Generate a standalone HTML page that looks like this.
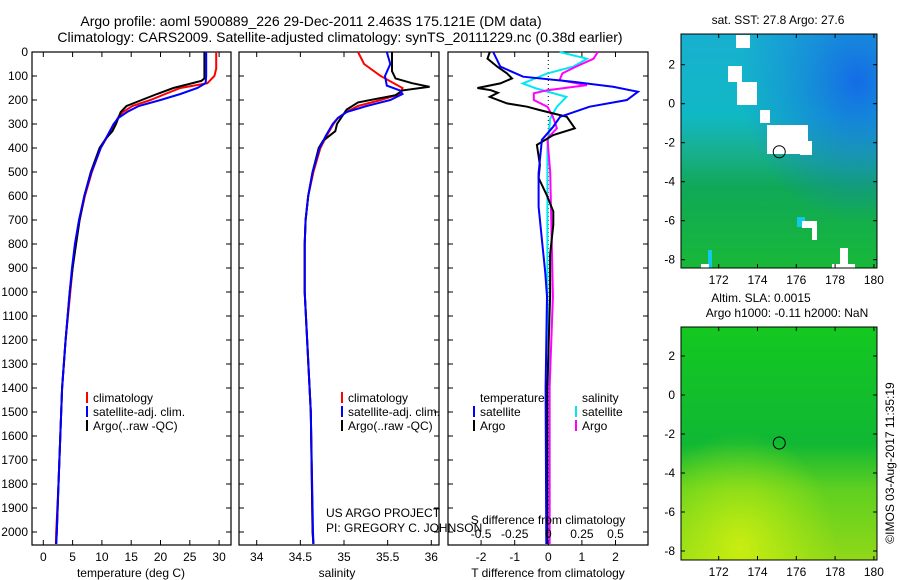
<!DOCTYPE html>
<html><head><meta charset="utf-8"><style>
body{margin:0;background:#fff;}
svg{display:block;font-family:"Liberation Sans",sans-serif;}
</style></head><body>
<svg id="c" width="900" height="580" viewBox="0 0 900 580">
<defs>
<linearGradient id="sstg" x1="0" y1="0" x2="0" y2="1">
<stop offset="0" stop-color="#18b0d0"/><stop offset="0.35" stop-color="#10b8c4"/><stop offset="0.5" stop-color="#18b090"/><stop offset="0.65" stop-color="#10a858"/><stop offset="1" stop-color="#18b838"/></linearGradient>
<radialGradient id="sstr" cx="0.9" cy="0.2" r="0.6"><stop offset="0" stop-color="#1468e8" stop-opacity="0.95"/><stop offset="0.6" stop-color="#1878e0" stop-opacity="0.4"/><stop offset="1" stop-color="#1878e0" stop-opacity="0"/></radialGradient>
<linearGradient id="slag" x1="0" y1="0" x2="0" y2="1">
<stop offset="0" stop-color="#14c820"/><stop offset="0.5" stop-color="#10b834"/><stop offset="0.7" stop-color="#60d020"/><stop offset="1" stop-color="#90d818"/></linearGradient>
<radialGradient id="slay" cx="0.3" cy="0.95" r="0.5"><stop offset="0" stop-color="#d0f010" stop-opacity="0.9"/><stop offset="1" stop-color="#c0f010" stop-opacity="0"/></radialGradient>
</defs>
<g id="root"></g>
</svg>
<script>
// ---- data ----
const tDepth = [0,70,100,130,150,175,200,225,250,275,300,350,400,500,600,700,800,900,1000,1200,1400,1600,1800,2000,2050];
const tClim  = [29.5,29.5,29.2,28,23.4,20.8,18.3,15.2,13.6,12.7,12.2,11,9.8,8.3,7.1,6.2,5.5,5,4.6,3.8,3.2,2.9,2.6,2.2,2.15];
const tSat   = [27.8,27.8,27.8,27.7,26.3,23.4,20,16.3,14.3,12.8,12,10.9,9.8,8.2,7,6.1,5.4,4.9,4.5,3.8,3.2,2.9,2.6,2.3,2.2];
const tArgoDepth = [0,110,120,150,175,200,225,250,275,300,330,360,400,500,600,700,800,900,1000,1200,1400,1600,1800,2000,2050];
const tArgo  = [27.5,27.5,27,22.2,19.4,16.8,14.2,13.2,12.8,12.4,11.8,10.7,9.6,8.1,7,6.2,5.6,5,4.5,3.8,3.2,2.9,2.6,2.3,2.2];

const sDepth = [0,50,100,130,150,175,200,225,250,275,300,350,400,500,600,700,800,1000,1500,2000,2050];
const sClim  = [35.16,35.23,35.42,35.57,35.67,35.64,35.42,35.16,35.03,34.93,34.88,34.8,34.73,34.65,34.59,34.56,34.55,34.55,34.62,34.64,34.65];
const sSatDepth = [0,50,100,140,160,175,200,225,250,275,300,350,400,500,600,700,800,1000,1500,2000,2050];
const sSat   = [35.49,35.53,35.47,35.49,35.64,35.67,35.53,35.26,35.03,34.93,34.87,34.79,34.72,34.64,34.59,34.56,34.55,34.55,34.62,34.645,34.65];
const sArgoDepth = [0,80,110,130,145,160,180,210,240,300,330,370,400,500,600,700,800,1000,1500,2000,2050];
const sArgo  = [35.55,35.55,35.59,35.78,35.98,35.67,35.59,35.16,35.03,34.92,34.9,34.76,34.71,34.64,34.59,34.56,34.55,34.55,34.62,34.64,34.65];

const dTSatDepth = [0,61,103,124,145,166,200,228,270,311,366,505,644,782,921,1018,1400,2050];
const dTSat  = [-1.64,-1.43,-0.75,0.73,1.93,2.67,2.34,1.23,0.35,0.15,-0.19,-0.29,-0.29,-0.19,-0.09,-0.04,-0.08,-0.06];
const dTArgoDepth = [0,28,61,89,110,131,150,159,170,187,214,228,242,270,318,346,387,470,525,595,664,720,844,1018,1400,2050];
const dTArgo = [-1.74,-1.81,-1.52,-1.23,-1.08,-1.43,-2.11,-1.71,-1.5,-1.74,-1.23,-0.63,-0.25,0.55,0.79,0.15,-0.34,-0.25,-0.29,-0.05,0.15,0.15,0.055,0.055,-0.03,-0.03];
const dSSatDepth = [0,28,61,89,131,152,187,228,277,400,1018,1400,2050];
const dSSat  = [0.084,0.287,0.186,-0.007,-0.19,-0.088,0.135,0.064,0.014,-0.007,-0.007,0.01,0.01];
const dSArgoDepth = [0,28,61,89,117,138,159,172,200,228,270,318,360,500,1018,1400,2050];
const dSArgo = [0.368,0.337,0.206,0.105,0.084,0.287,-0.007,-0.108,-0.108,-0.007,0.034,0.064,-0.007,0.014,0.034,0.01,0.01];

const depthTicks = [0,100,200,300,400,500,600,700,800,900,1000,1100,1200,1300,1400,1500,1600,1700,1800,1900,2000];
const tTicks = [0,5,10,15,20,25,30];
const sTicks = [34,34.5,35,35.5,36];
const sTickLabels = ['34','34.5','35','35.5','36'];
const dTTicks = [-2,-1,0,1,2];
const dSTicks = [-0.5,-0.25,0,0.25,0.5];
const dSTickLabels = ['-0.5','-0.25','0','0.25','0.5'];
const lonTicks = [172,174,176,178,180];
const latTicks = [2,0,-2,-4,-6,-8];
const argoLon = 175.121, argoLat = -2.463;

// ---- helpers ----
const NS='http://www.w3.org/2000/svg';
const root=document.getElementById('root');
function mk(tag,attrs,parent){const e=document.createElementNS(NS,tag);for(const k in attrs)e.setAttribute(k,attrs[k]);(parent||root).appendChild(e);return e;}
function txt(x,y,s,anchor,size,parent){const e=mk('text',{x:x,y:y,'text-anchor':anchor||'middle','font-size':size||12,fill:'#000'},parent);e.textContent=s;return e;}
const Y0=52, PY=0.2400;
const yD=d=>Y0+d*PY;
const xT=t=>43.3+t*5.86;
const xS=s=>256.7+(s-34)*87.3;
const xDT=d=>548.3+d*33.6;
const xDS=s=>548.3+s*134.4;

function line(xs,ds,fx,color,name,w){
  const pts=xs.map((v,i)=>fx(v).toFixed(1)+','+yD(ds[i]).toFixed(1)).join(' ');
  const p=mk('polyline',{points:pts,fill:'none',stroke:color,'stroke-width':w||2});
  
  
}
function frame(x0,x1,name){
  const r=mk('rect',{x:x0,y:52,width:x1-x0,height:493,fill:'none',stroke:'#000','stroke-width':1.2});
  
  
}
function xticks(ticks,labels,fx){
  ticks.forEach((t,i)=>{const x=fx(t);
    mk('line',{x1:x,x2:x,y1:545,y2:540,stroke:'#000'});
    mk('line',{x1:x,x2:x,y1:52,y2:57,stroke:'#000'});
    if(labels){const e=txt(x,561,labels[i]);}
  });
}
function legend(x,y,items){
  items.forEach((it,i)=>{
    mk('line',{x1:x,x2:x,y1:y+i*14-10,y2:y+i*14+1,stroke:it[1],'stroke-width':2});
    const e=txt(x+6,y+i*14,it[0],'start',12);
    
    
  });
}

// titles
let e=txt(311,26,'Argo profile: aoml 5900889_226 29-Dec-2011 2.463S 175.121E (DM data)','middle',14);


e=txt(340,42,'Climatology: CARS2009. Satellite-adjusted climatology: synTS_20111229.nc (0.38d earlier)','middle',14);



// panel 1 temperature
frame(32,231,'temperature-panel');
depthTicks.forEach(d=>{const y=yD(d);
  mk('line',{x1:32,x2:37,y1:y,y2:y,stroke:'#000'});mk('line',{x1:226,x2:231,y1:y,y2:y,stroke:'#000'});
  const t=txt(28,y+4,String(d),'end',12);});
xticks(tTicks,tTicks.map(String),xT);
line(tClim,tDepth,xT,'#ff0000','temp-climatology-line');
line(tArgo,tArgoDepth,xT,'#000000','temp-argo-line');
line(tSat,tDepth,xT,'#0000ff','temp-satellite-line');
e=txt(131,577,'temperature (deg C)');
legend(87,402,[['climatology','#ff0000'],['satellite-adj. clim.','#0000ff'],['Argo(..raw -QC)','#000']]);

// panel 2 salinity
frame(239,439,'salinity-panel');
depthTicks.forEach(d=>{const y=yD(d);mk('line',{x1:239,x2:244,y1:y,y2:y,stroke:'#000'});mk('line',{x1:434,x2:439,y1:y,y2:y,stroke:'#000'});});
xticks(sTicks,sTickLabels,xS);
line(sClim,sDepth,xS,'#ff0000','sal-climatology-line');
line(sArgo,sArgoDepth,xS,'#000000','sal-argo-line');
line(sSat,sSatDepth,xS,'#0000ff','sal-satellite-line');
e=txt(337,577,'salinity');
legend(342,402,[['climatology','#ff0000'],['satellite-adj. clim.','#0000ff'],['Argo(..raw -QC)','#000']]);
e=txt(326,517,'US ARGO PROJECT','start',12);
e=txt(326,532,'PI: GREGORY C. JOHNSON','start',12);

// panel 3 differences
frame(448,648,'difference-panel');
depthTicks.forEach(d=>{const y=yD(d);mk('line',{x1:448,x2:453,y1:y,y2:y,stroke:'#000'});mk('line',{x1:643,x2:648,y1:y,y2:y,stroke:'#000'});});
xticks(dTTicks,dTTicks.map(String),xDT);
mk('line',{x1:548.3,x2:548.3,y1:52,y2:545,stroke:'#000','stroke-dasharray':'1,3'});
line(dSSat,dSSatDepth,xDS,'#00e8f0','sdiff-satellite-line');
line(dSArgo,dSArgoDepth,xDS,'#ff00ff','sdiff-argo-line');
line(dTArgo,dTArgoDepth,xDT,'#000000','tdiff-argo-line');
line(dTSat,dTSatDepth,xDT,'#0000ff','tdiff-satellite-line');
dSTicks.forEach((s,i)=>{e=txt(xDS(s),538,dSTickLabels[i]);});
e=txt(548,524,'S difference from climatology');
e=txt(548,577,'T difference from climatology');
e=txt(480,402,'temperature','start',12);
e=txt(582,402,'salinity','start',12);
legend(474,416,[['satellite','#0000ff'],['Argo','#000']]);
legend(576,416,[['satellite','#00e8f0'],['Argo','#ff00ff']]);

// maps
function map(top,bottom,lat0y,fill,over,name,whites,cyans){
  const L=681,R=877;
  const g=mk('g',{});
  mk('rect',{x:L,y:top,width:R-L,height:bottom-top,fill:fill},g);
  mk('rect',{x:L,y:top,width:R-L,height:bottom-top,fill:over},g);
  cyans.forEach(w=>mk('rect',{x:w[0],y:w[1],width:w[2],height:w[3],fill:'#10c8e8'},g));
  whites.forEach(w=>mk('rect',{x:w[0],y:w[1],width:w[2],height:w[3],fill:'#fff'},g));
  const px=lon=>718.7+(lon-172)*19.4;
  const py=lat=>lat0y-lat*19.5;
  mk('rect',{x:L,y:top,width:R-L,height:bottom-top,fill:'none',stroke:'#000'},g);
  lonTicks.forEach(l=>{const x=px(l);mk('line',{x1:x,x2:x,y1:bottom,y2:bottom-4,stroke:'#000'},g);mk('line',{x1:x,x2:x,y1:top,y2:top+4,stroke:'#000'},g);
    const t=txt(x,bottom+16,String(l),'middle',12,g);});
  latTicks.forEach(l=>{const y=py(l);mk('line',{x1:L,x2:L+4,y1:y,y2:y,stroke:'#000'},g);mk('line',{x1:R,x2:R-4,y1:y,y2:y,stroke:'#000'},g);
    const t=txt(L-6,y+4,String(l),'end',12,g);});
  const c=mk('circle',{cx:px(argoLon),cy:py(argoLat),r:6,fill:'none',stroke:'#000'},g);
  
  
}
map(34,268,103.7,'url(#sstg)','url(#sstr)','sst-map',
  [[736,35,14,13],[728,66,14,16],[737,82,20,23],[760,110,10,13],[767,125,41,29],[800,141,12,14],[802,221,15,7],[812,221,5,19],[840,248,8,20],[832,264,23,4],[701,264,8,4]],
  [[797,217,8,10],[708,250,4,18]]);
map(327,560,395,'url(#slag)','url(#slay)','sla-map',[],[]);
e=txt(778,24,'sat. SST: 27.8 Argo: 27.6','middle',12);
e=txt(761,302,'Altim. SLA: 0.0015','middle',12);
e=txt(787,317,'Argo h1000: -0.11 h2000: NaN','middle',12);
e=txt(0,0,'©IMOS 03-Aug-2017 11:35:19','middle',12);
e.setAttribute('transform','translate(894,463) rotate(-90)');


</script>
</body></html>
